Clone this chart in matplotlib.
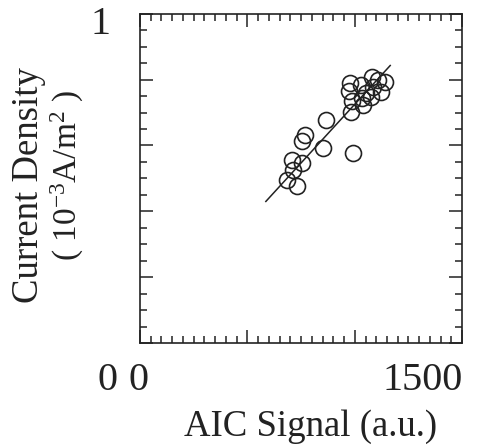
import numpy as np
import matplotlib.pyplot as plt
from matplotlib.ticker import MultipleLocator, NullFormatter

# AIC signal (a.u.) vs current density (10^-3 A/m^2)
aic_signal = [978, 974, 1029, 1081, 1109, 1141, 1085, 1053, 1123, 1076, 988, 1039,
              983, 1034, 865, 769, 753, 854, 994, 708, 755, 713, 685, 731]
current_density = [0.790, 0.766, 0.784, 0.809, 0.799, 0.793, 0.778, 0.760, 0.763,
                   0.748, 0.736, 0.723, 0.702, 0.745, 0.676, 0.632, 0.614, 0.593,
                   0.576, 0.556, 0.546, 0.526, 0.495, 0.477]

# regression line end points
fit_x = [586, 1165]
fit_y = [0.430, 0.843]

plt.rcParams["font.family"] = "Liberation Serif"
plt.rcParams["mathtext.fontset"] = "custom"
plt.rcParams["mathtext.rm"] = "Liberation Serif"

fig = plt.figure(figsize=(4.86, 4.46), dpi=100)
ax = fig.add_axes([0.288, 0.231, 0.663, 0.738])

ax.plot(fit_x, fit_y, color="#222222", lw=1.1)
ax.plot(aic_signal, current_density, "o", ms=11.5, mfc="none",
        mec="#222222", mew=1.2)

ax.set_xlim(0, 1500)
ax.set_ylim(0, 1)
ax.xaxis.set_major_locator(MultipleLocator(500))
ax.xaxis.set_minor_locator(MultipleLocator(50))
ax.yaxis.set_major_locator(MultipleLocator(0.2))
ax.yaxis.set_minor_locator(MultipleLocator(0.05))
ax.xaxis.set_major_formatter(NullFormatter())
ax.yaxis.set_major_formatter(NullFormatter())
ax.tick_params(which="both", direction="in", top=True, right=True,
               color="#222222", width=1.1)
ax.tick_params(which="major", length=9.5)
ax.tick_params(which="minor", length=5)
for s in ax.spines.values():
    s.set_linewidth(1.2)
    s.set_color("#222222")

tc = "#222222"
num_fs = 29
lab_fs = 26.5
ax.text(-0.121, 0.967, "1", transform=ax.transAxes, fontsize=num_fs, color=tc,
        ha="center", va="center")
ax.text(-0.102, -0.115, "0", transform=ax.transAxes, fontsize=num_fs, color=tc,
        ha="center", va="center")
ax.text(-0.006, -0.115, "0", transform=ax.transAxes, fontsize=num_fs, color=tc,
        ha="center", va="center")
ax.text(1.003, -0.115, "1500", transform=ax.transAxes, fontsize=num_fs,
        color=tc, ha="right", va="center")
ax.text(0.53, -0.255, "AIC Signal (a.u.)", transform=ax.transAxes,
        fontsize=lab_fs, color=tc, ha="center", va="center")
ax.text(-0.345, 0.48, "Current Density", transform=ax.transAxes,
        fontsize=lab_fs, color=tc, ha="center", va="center", rotation=90)
ax.text(-0.225, 0.51, r"( 10$\mathregular{^{-3}}$A/m$\mathregular{^2}$ )",
        transform=ax.transAxes, fontsize=24, color=tc,
        ha="center", va="center", rotation=90)

fig.savefig("out.png", dpi=100, facecolor="white")
